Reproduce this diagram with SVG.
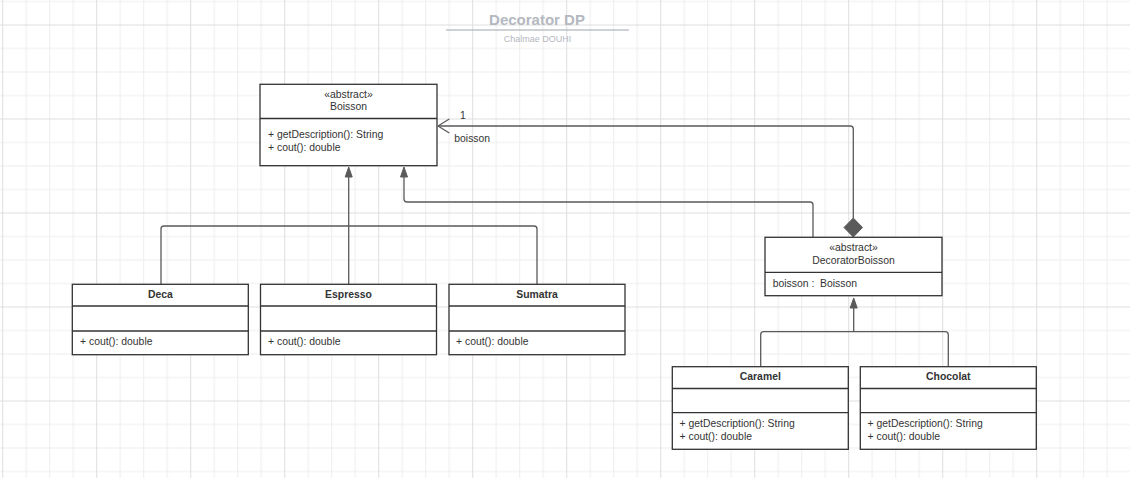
<svg xmlns="http://www.w3.org/2000/svg" width="1130" height="478" viewBox="0 0 1130 478">
<style>
.box{fill:#fff;stroke:#333;stroke-width:1.3}
.div{stroke:#333;stroke-width:1.3}
.t{font-family:"Liberation Sans",Arial,sans-serif;font-size:10.4px;fill:#333}
.c{text-anchor:middle}
.b{font-weight:bold}
.con{fill:none;stroke:#5a5a5a;stroke-width:1.3;stroke-linejoin:round}
.ah{fill:#5a5a5a;stroke:#5a5a5a;stroke-width:1}
</style>
<defs>
<pattern id="grid" patternUnits="userSpaceOnUse" x="2.2" y="24.5" width="94" height="94">
<rect x="0" y="0" width="94" height="94" fill="#fff"/>
<rect x="23.5" y="0" width="1" height="94" fill="#ededed"/>
<rect x="47" y="0" width="1" height="94" fill="#ededed"/>
<rect x="70.5" y="0" width="1" height="94" fill="#ededed"/>
<rect x="0" y="23.5" width="94" height="1" fill="#ededed"/>
<rect x="0" y="47" width="94" height="1" fill="#ededed"/>
<rect x="0" y="70.5" width="94" height="1" fill="#ededed"/>
<rect x="0" y="0" width="1" height="94" fill="#dedede"/>
<rect x="0" y="0" width="94" height="1" fill="#dedede"/>
</pattern>
</defs>
<rect width="1130" height="478" fill="url(#grid)"/>

<g id="title">
<text x="537" y="24.5" class="t c b" style="font-size:15px;fill:#b4b8c0">Decorator DP</text>
<line x1="446" y1="30" x2="629" y2="30" stroke="#9ea6b0" stroke-width="1.2"/>
<text x="537.5" y="42" class="t c" style="font-size:9px;fill:#b4b8c0">Chalmae DOUHI</text>
</g>

<g id="connectors">
<path class="con" d="M161 284 V229 Q161 226 164 226 H534 Q537 226 537 229 V284"/>
<path class="con" d="M348.7 284 V177"/>
<polygon class="ah" points="348.7,167 345.2,177 352.2,177"/>
<path class="con" d="M813 237 V205 Q813 202 810 202 H407 Q404 202 404 199 V177"/>
<polygon class="ah" points="404,167 400.5,177 407.5,177"/>
<path class="con" d="M853.3 218 V129 Q853.3 126 850.3 126 H438"/>
<polyline class="con" points="449.3,119 438,126 449.3,133"/>
<polygon class="ah" points="853.3,218 862.5,227.5 853.3,237 844,227.5"/>
<path class="con" d="M760.7 366.7 V334.7 Q760.7 331.7 763.7 331.7 H945.3 Q948.3 331.7 948.3 334.7 V366.7"/>
<path class="con" d="M853.7 331.7 V308"/>
<polygon class="ah" points="853.7,298 850.2,308 857.2,308"/>
<text x="460" y="118.5" class="t">1</text>
<text x="454.3" y="142" class="t">boisson</text>
</g>

<g id="Boisson">
<rect class="box" x="260" y="84.3" width="177" height="81.4"/>
<line class="div" x1="260" y1="118.5" x2="437" y2="118.5"/>
<text x="348.5" y="97.5" class="t c">«abstract»</text>
<text x="348.5" y="110" class="t c">Boisson</text>
<text x="268" y="138" class="t">+ getDescription(): String</text>
<text x="268" y="151" class="t">+ cout(): double</text>
</g>

<g id="Deca">
<rect class="box" x="72.3" y="284.3" width="176" height="70.4"/>
<line class="div" x1="72.3" y1="306" x2="248.3" y2="306"/>
<line class="div" x1="72.3" y1="331" x2="248.3" y2="331"/>
<text x="160.3" y="298" class="t c b">Deca</text>
<text x="80" y="345" class="t">+ cout(): double</text>
</g>

<g id="Espresso">
<rect class="box" x="260.5" y="284.3" width="176" height="70.4"/>
<line class="div" x1="260.5" y1="306" x2="436.5" y2="306"/>
<line class="div" x1="260.5" y1="331" x2="436.5" y2="331"/>
<text x="348.5" y="298" class="t c b">Espresso</text>
<text x="268" y="345" class="t">+ cout(): double</text>
</g>

<g id="Sumatra">
<rect class="box" x="449" y="284.3" width="176" height="70.4"/>
<line class="div" x1="449" y1="306" x2="625" y2="306"/>
<line class="div" x1="449" y1="331" x2="625" y2="331"/>
<text x="537" y="298" class="t c b">Sumatra</text>
<text x="456" y="345" class="t">+ cout(): double</text>
</g>

<g id="DecoratorBoisson">
<rect class="box" x="765" y="237.3" width="177" height="58.4"/>
<line class="div" x1="765" y1="272.3" x2="942" y2="272.3"/>
<text x="853.5" y="250.5" class="t c">«abstract»</text>
<text x="853.5" y="263.5" class="t c">DecoratorBoisson</text>
<text x="772.7" y="286.5" class="t" xml:space="preserve">boisson :  Boisson</text>
</g>

<g id="Caramel">
<rect class="box" x="672.3" y="366.7" width="176" height="82.6"/>
<line class="div" x1="672.3" y1="388.5" x2="848.3" y2="388.5"/>
<line class="div" x1="672.3" y1="412.7" x2="848.3" y2="412.7"/>
<text x="760.3" y="380" class="t c b">Caramel</text>
<text x="679.5" y="427" class="t">+ getDescription(): String</text>
<text x="679.5" y="440" class="t">+ cout(): double</text>
</g>

<g id="Chocolat">
<rect class="box" x="860.3" y="366.7" width="176" height="82.6"/>
<line class="div" x1="860.3" y1="388.5" x2="1036.3" y2="388.5"/>
<line class="div" x1="860.3" y1="412.7" x2="1036.3" y2="412.7"/>
<text x="948.3" y="380" class="t c b">Chocolat</text>
<text x="867.5" y="427" class="t">+ getDescription(): String</text>
<text x="867.5" y="440" class="t">+ cout(): double</text>
</g>
</svg>
